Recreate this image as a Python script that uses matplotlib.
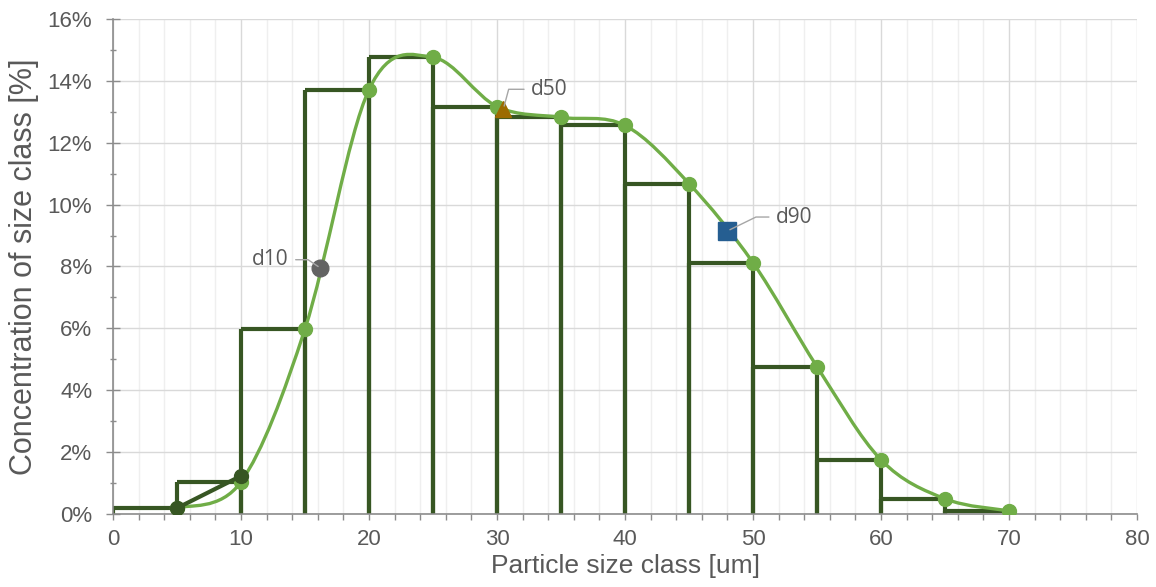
import numpy as np
import matplotlib
matplotlib.use("Agg")
import matplotlib.pyplot as plt
from matplotlib.path import Path
from matplotlib.patches import PathPatch
from matplotlib.ticker import MultipleLocator, FuncFormatter

# size classes (upper bound of each 5 um bin) and concentration [%]
size_class = [5, 10, 15, 20, 25, 30, 35, 40, 45, 50, 55, 60, 65, 70]
concentration = [0.19, 1.04, 5.99, 13.72, 14.76, 13.17, 12.82, 12.56,
                 10.68, 8.12, 4.76, 1.75, 0.49, 0.10]
bin_width = 5

# short dark series at the start
start_x = [5, 10]
start_y = [0.19, 1.23]

# characteristic diameters
d_names = ["d10", "d50", "d90"]
d_x = [16.2, 30.5, 48.0]
d_y = [7.95, 13.1, 9.15]

DARK = "#375623"
LIGHT = "#70AD47"
GREY_TXT = "#595959"


def smooth_path(xs, ys):
    # excel-like smoothed line: cubic bezier segments through the points
    pts = np.column_stack([xs, ys])
    verts = [pts[0]]
    codes = [Path.MOVETO]
    n = len(pts)
    for i in range(n - 1):
        p0 = pts[max(i - 1, 0)]
        p1 = pts[i]
        p2 = pts[i + 1]
        p3 = pts[min(i + 2, n - 1)]
        c1 = p1 + (p2 - p0) / 6.0
        c2 = p2 - (p3 - p1) / 6.0
        verts += [c1, c2, p2]
        codes += [Path.CURVE4] * 3
    return Path(verts, codes)


plt.rcParams['font.family'] = ['Liberation Sans', 'DejaVu Sans']

fig = plt.figure(figsize=(11.56, 5.87), dpi=100)
ax = fig.add_axes([0.0978, 0.1244, 0.8858, 0.8432])

ax.set_xlim(0, 80)
ax.set_ylim(0, 16)

# grid
ax.xaxis.set_major_locator(MultipleLocator(10))
ax.xaxis.set_minor_locator(MultipleLocator(2))
ax.yaxis.set_major_locator(MultipleLocator(2))
ax.yaxis.set_minor_locator(MultipleLocator(1))
ax.grid(which="major", axis="both", color="#D9D9D9", linewidth=1.0, zorder=0)
ax.grid(which="minor", axis="x", color="#EFEFEF", linewidth=1.0, zorder=0)
ax.set_axisbelow(True)

for s in ["top", "right"]:
    ax.spines[s].set_visible(False)
for s in ["left", "bottom"]:
    ax.spines[s].set_color("#8C8C8C")
    ax.spines[s].set_linewidth(1.2)

ax.tick_params(axis="x", which="both", direction="out", length=4,
               color="#8C8C8C", width=1.0, labelsize=16, labelcolor=GREY_TXT, pad=7)
ax.tick_params(axis="y", which="major", direction="inout", length=10,
               color="#8C8C8C", width=1.0, labelsize=16, labelcolor=GREY_TXT, pad=10)
ax.tick_params(axis="y", which="minor", direction="inout", length=5,
               color="#8C8C8C", width=1.0)
ax.yaxis.set_major_formatter(FuncFormatter(lambda v, p: f"{v:.0f}%"))

# histogram drawn as open steps
for x, h in zip(size_class, concentration):
    left = x - bin_width
    ax.vlines([left, x], 0, h, color=DARK, linewidth=3.0, zorder=2)
    ax.hlines(h, left, x, color=DARK, linewidth=3.0, zorder=2)

# smoothed distribution curve
ax.add_patch(PathPatch(smooth_path(size_class, concentration), fill=False,
                       edgecolor=LIGHT, linewidth=2.4, zorder=3))
ax.plot(size_class, concentration, linestyle="none", marker="o",
        markersize=10, color=LIGHT, zorder=4)

ax.plot(start_x, start_y, color=DARK, linewidth=3.0, marker="o",
        markersize=10, zorder=5)

# d10 / d50 / d90 markers with labels
markers = ["o", "^", "s"]
colors = ["#636363", "#9C6B00", "#255E91"]
sizes = [12, 12, 13]
offsets = [(-36, 6), (33, 14), (48, 10)]
bends = [146, 75, 26]
for name, x, y, m, c, ms, off, b in zip(d_names, d_x, d_y, markers, colors,
                                        sizes, offsets, bends):
    ax.plot([x], [y], marker=m, markersize=ms, color=c, linestyle="none", zorder=6)
    ax.annotate(name, xy=(x, y), xytext=off, textcoords="offset points",
                ha="center", va="center", fontsize=15, color=GREY_TXT,
                family=["Open Sans", "DejaVu Sans"],
                arrowprops=dict(arrowstyle="-", color="#A6A6A6", lw=1.0,
                                shrinkA=3, shrinkB=2,
                                connectionstyle=f"angle,angleA=0,angleB={b},rad=0"),
                zorder=7)

ax.set_xlabel("Particle size class [um]", fontsize=19, color=GREY_TXT, labelpad=3)
ax.set_ylabel("Concentration of size class [%]", fontsize=22, color=GREY_TXT, labelpad=6)

fig.savefig("out.png", dpi=100)
